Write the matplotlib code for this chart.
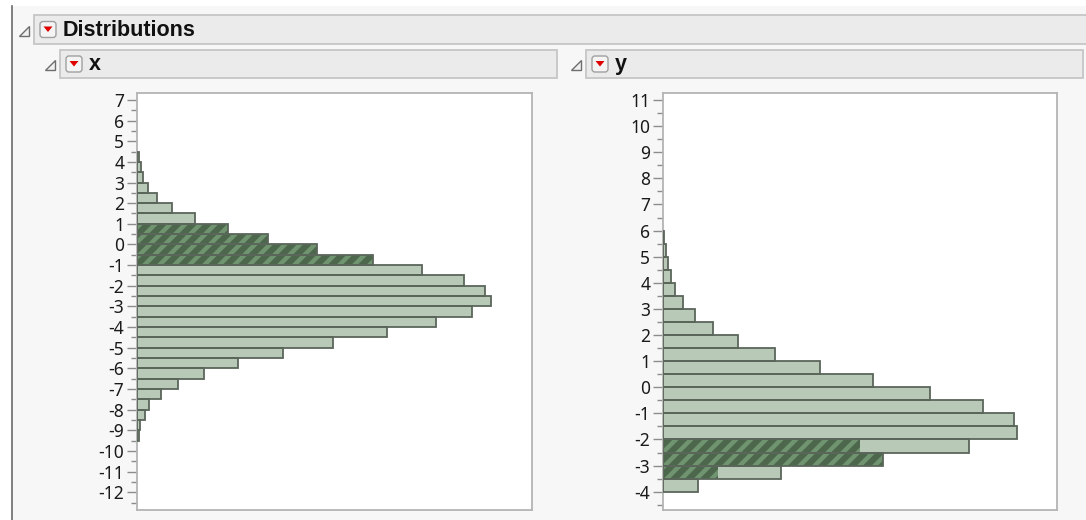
"""
JMP-style "Distributions" report: two horizontal histograms (x, y)
with a linked selection drawn as hatched dark-green bars.
"""

import matplotlib
matplotlib.use("Agg")
import matplotlib.pyplot as plt
import matplotlib.ticker as ticker
from matplotlib.collections import LineCollection
from matplotlib.patches import Rectangle, Polygon, FancyBboxPatch
import numpy as np

plt.rcParams["font.family"] = ["Noto Sans", "DejaVu Sans"]

W, H, DPI = 1086, 520, 100

# ── data ─────────────────────────────────────────────────────────────────────
BIN_W = 0.5

# x: bins from -9.5 to 4.5, bottom → top
x_start = -9.5
x_counts = [2, 3, 8, 12, 24, 41, 67, 101, 146, 196, 250, 299, 335, 354,
            348, 327, 285, 236, 180, 131, 91, 58, 35, 20, 11, 6, 4, 2]
x_selected = [0, 0, 0, 0, 0, 0, 0, 0, 0, 0, 0, 0, 0, 0,
              0, 0, 0, 236, 180, 131, 91, 0, 0, 0, 0, 0, 0, 0]
x_ticks = list(range(-12, 8))
x_lim = (-12.86, 7.35)

# y: bins from -4 to 6, bottom → top
y_start = -4.0
y_counts = [35, 118, 220, 306, 354, 351, 320, 267, 210, 157,
            112, 75, 50, 32, 20, 12, 8, 5, 3, 1]
y_selected = [0, 55, 220, 197, 0, 0, 0, 0, 0, 0,
              0, 0, 0, 0, 0, 0, 0, 0, 0, 0]
y_ticks = list(range(-4, 12))
y_lim = (-4.70, 11.28)

# ── colours ──────────────────────────────────────────────────────────────────
BG = "#f7f7f7"
HEADER_FILL = "#ebebeb"
HEADER_EDGE = "#c6c6c6"
BAR_FILL = "#b8c9b8"
BAR_EDGE = "#5b665b"
SEL_FILL = "#4d674d"
SEL_STRIPE = "#6f946f"
FRAME = "#b4b4b4"
HEAD_FONT = ["Liberation Sans", "DejaVu Sans"]

fig = plt.figure(figsize=(W / DPI, H / DPI), dpi=DPI, facecolor=BG)

# ── report chrome (pixel coordinates) ────────────────────────────────────────
deco = fig.add_axes([0, 0, 1, 1], zorder=0)
deco.set_xlim(0, W)
deco.set_ylim(H, 0)
deco.axis("off")

deco.add_patch(Rectangle((0, 0), W, 6, facecolor="white", edgecolor="none"))
deco.add_patch(Rectangle((0, 0), 12, H, facecolor="white", edgecolor="none"))
deco.plot([12, 12], [6, H], color="#6b6b6b", lw=1.2)


def header(x0, y0, x1, y1, label, fs):
    deco.add_patch(Rectangle((x0, y0), x1 - x0, y1 - y0, facecolor=HEADER_FILL,
                             edgecolor=HEADER_EDGE, lw=1.3))
    yc = (y0 + y1) / 2
    # disclosure triangle
    tx = x0 - 15
    deco.add_patch(Polygon([[tx, yc + 6], [tx + 10, yc + 6], [tx + 10, yc - 4]],
                           closed=True, facecolor="#f0f0f0", edgecolor="#6e6e6e", lw=1))
    # red-arrow menu button
    bx = x0 + 6
    deco.add_patch(FancyBboxPatch((bx, yc - 8), 16, 16,
                                  boxstyle="round,pad=0,rounding_size=3",
                                  facecolor="#f4f4f4", edgecolor="#a0a0a0", lw=1))
    deco.add_patch(Polygon([[bx + 3.5, yc - 3], [bx + 12.5, yc - 3], [bx + 8, yc + 2.5]],
                           closed=True, facecolor="#e00000", edgecolor="none"))
    deco.text(bx + 22.5, yc + 0.5, label, fontsize=fs, fontweight="bold",
              family=HEAD_FONT, color="#111111", ha="left", va="center")


header(34, 15, W + 5, 44, "Distributions", 15.5)
header(60, 50, 557, 78, "x", 15.5)
header(586, 50, 1083, 78, "y", 15.5)


# ── histograms ───────────────────────────────────────────────────────────────
def histogram(rect, start, counts, selected, ticks, lim):
    ax = fig.add_axes(rect, zorder=2)
    ax.set_facecolor("white")
    xmax = max(counts) * 1.115
    edges = start + BIN_W * np.arange(len(counts))
    ax.barh(edges, counts, height=BIN_W, align="edge",
            color=BAR_FILL, edgecolor="none", zorder=1)
    sel = ax.barh(edges, selected, height=BIN_W, align="edge",
                  color=SEL_FILL, edgecolor="none", lw=0, zorder=2)

    # 45° stripes across the selected part (spacing in screen pixels)
    px_x = rect[2] * W / xmax
    px_y = rect[3] * H / (lim[1] - lim[0])
    step = 15 / px_x
    slope = px_x / px_y
    span = (lim[1] - lim[0]) / slope
    offs = np.arange(-span, xmax + step, step)
    segs = [[(o, lim[0]), (o + span, lim[1])] for o in offs]
    for patch in sel.patches:
        if patch.get_width() <= 0:
            continue
        lc = LineCollection(segs, colors=SEL_STRIPE, linewidths=3.2, zorder=2.5)
        ax.add_collection(lc, autolim=False)
        lc.set_clip_path(patch.get_path(), patch.get_transform())

    ax.barh(edges, counts, height=BIN_W, align="edge",
            color="none", edgecolor=BAR_EDGE, lw=1.3, zorder=3)

    ax.set_ylim(*lim)
    ax.set_xlim(0, xmax)
    ax.set_yticks(ticks)
    ax.set_yticklabels([str(t) for t in ticks])
    ax.yaxis.set_minor_locator(ticker.MultipleLocator(0.5))
    ax.tick_params(axis="y", which="major", length=7, width=1, color="#8c8c8c",
                   labelsize=12.5, labelcolor="#1a1a1a", pad=2)
    ax.tick_params(axis="y", which="minor", length=4, width=1, color="#8c8c8c")
    ax.set_xticks([])
    for s in ax.spines.values():
        s.set_color(FRAME)
        s.set_linewidth(1.3)
    return ax


histogram([136.7 / W, 10 / H, 395 / W, 417.3 / H],
          x_start, x_counts, x_selected, x_ticks, x_lim)
histogram([662.7 / W, 10 / H, 394.6 / W, 417.3 / H],
          y_start, y_counts, y_selected, y_ticks, y_lim)

fig.savefig("out.png", dpi=DPI, facecolor=BG)
